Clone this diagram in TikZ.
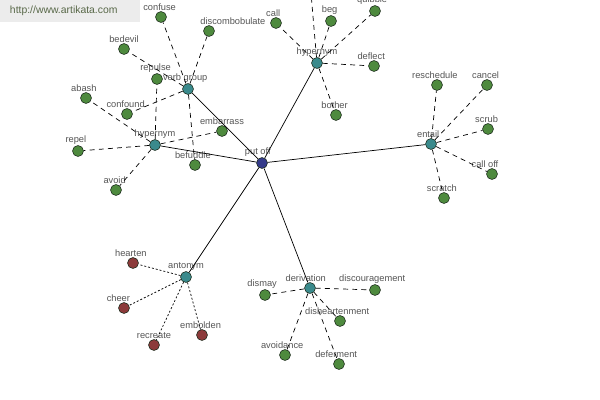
\documentclass[tikz,border=0pt]{standalone}
\usepackage{fontspec}
\setmainfont{Liberation Sans}
\definecolor{leafgreen}{RGB}{78,138,62}
\definecolor{leafred}{RGB}{140,58,58}
\definecolor{hubteal}{RGB}{58,138,140}
\definecolor{rootblue}{RGB}{52,58,138}
\definecolor{rimdark}{RGB}{30,45,30}
\definecolor{txtgray}{RGB}{85,85,85}
\definecolor{markgray}{RGB}{236,236,236}
\definecolor{marktext}{RGB}{88,104,72}
\begin{document}
\begin{tikzpicture}[x=0.025cm,y=-0.025cm,
  dot/.style={circle,draw=rimdark,line width=0.4pt,inner sep=0pt,minimum size=7.8pt},
  leaf/.style={dot,fill=leafgreen},
  foe/.style={dot,fill=leafred},
  hub/.style={dot,fill=hubteal},
  root/.style={dot,fill=rootblue},
  every label/.style={text=txtgray,font=\fontsize{6.6}{7}\selectfont,inner sep=0.5pt},
  label distance=0pt,
  rel/.style={line width=0.5pt},
  sub/.style={line width=0.5pt,dash pattern=on 3.5pt off 3pt},
  opp/.style={line width=0.5pt,dash pattern=on 1.4pt off 1.4pt}]
\useasboundingbox (0,0) rectangle (600,400);
\clip (0,0) rectangle (600,400);
\fill[white] (0,0) rectangle (600,400);
\node[fill=markgray,minimum width=140*0.025cm,minimum height=22*0.025cm,inner sep=0pt,anchor=north west] (mark) at (0,0) {};
\node[text=marktext,font=\fontsize{7.4}{8}\selectfont,anchor=west] (marktxt) at (5,11) {http://www.artikata.com};

\node[root,label={[xshift=-3pt]above:put off}] (putoff) at (262,163) {};

\node[hub,label={[xshift=-2pt]above:verb group}] (verbgroup) at (188,89) {};
\node[hub,label=above:hypernym] (hypernymA) at (155,145) {};
\node[hub,label=above:hypernym] (hypernymB) at (317,63) {};
\node[hub,label={[xshift=-2pt]above:entail}] (entail) at (431,144) {};
\node[hub,label=above:antonym] (antonym) at (186,277) {};
\node[hub,label={[xshift=-3pt]above:derivation}] (derivation) at (310,288) {};

\node[leaf,label={[xshift=-1pt]above:confuse}] (confuse) at (161,17) {};
\node[leaf,label={[xshift=17pt]above:discombobulate}] (discombobulate) at (209,31) {};
\node[leaf,label=above:bedevil] (bedevil) at (124,49) {};
\node[leaf,label={[xshift=-1pt]above:repulse}] (repulse) at (157,79) {};
\node[leaf,label={[xshift=-1.5pt]above:abash}] (abash) at (86,98) {};
\node[leaf,label={[xshift=-1pt]above:confound}] (confound) at (127,114) {};
\node[leaf,label=above:embarrass] (embarrass) at (222,131) {};
\node[leaf,label={[xshift=-1.5pt]above:repel}] (repel) at (78,151) {};
\node[leaf,label={[xshift=-1.5pt]above:befuddle}] (befuddle) at (195,165) {};
\node[leaf,label={[xshift=-1pt]above:avoid}] (avoid) at (116,190) {};

\node[leaf,label={[xshift=-2pt]above:call}] (call) at (276,23) {};
\node[leaf,label={[xshift=-1pt]above:beg}] (beg) at (331,21) {};
\node[leaf,label={[xshift=-2pt]above:quibble}] (quibble) at (375,11) {};
\node[leaf,label={[xshift=-2pt]above:deflect}] (deflect) at (374,66) {};
\node[leaf,label={[xshift=-1pt]above:bother}] (bother) at (336,115) {};
\coordinate (abovetop) at (309,-30);

\node[leaf,label={[xshift=-1.5pt]above:reschedule}] (reschedule) at (437,85) {};
\node[leaf,label={[xshift=-1pt]above:cancel}] (cancel) at (487,85) {};
\node[leaf,label={[xshift=-1pt]above:scrub}] (scrub) at (488,129) {};
\node[leaf,label={[xshift=-5pt]above:call off}] (calloff) at (492,174) {};
\node[leaf,label={[xshift=-1.5pt]above:scratch}] (scratch) at (444,198) {};

\node[foe,label={[xshift=-1.5pt]above:hearten}] (hearten) at (133,263) {};
\node[foe,label={[xshift=-4pt]above:cheer}] (cheer) at (124,308) {};
\node[foe,label=above:recreate] (recreate) at (154,345) {};
\node[foe,label={[xshift=-1pt]above:embolden}] (embolden) at (202,335) {};

\node[leaf,label={[xshift=-2pt]above:dismay}] (dismay) at (265,295) {};
\node[leaf,label={[xshift=-2pt]above:discouragement}] (discouragement) at (375,290) {};
\node[leaf,label={[xshift=-2pt]above:disheartenment}] (disheartenment) at (340,321) {};
\node[leaf,label={[xshift=-2pt]above:avoidance}] (avoidance) at (285,355) {};
\node[leaf,label={[xshift=-2pt]above:deferment}] (deferment) at (339,364) {};

\draw[rel] (putoff) -- (verbgroup);
\draw[rel] (putoff) -- (hypernymA);
\draw[rel] (putoff) -- (hypernymB);
\draw[rel] (putoff) -- (entail);
\draw[rel] (putoff) -- (antonym);
\draw[rel] (putoff) -- (derivation);

\draw[sub] (verbgroup) -- (confuse);
\draw[sub] (verbgroup) -- (discombobulate);
\draw[sub] (verbgroup) -- (bedevil);
\draw[sub] (verbgroup) -- (confound);
\draw[sub] (verbgroup) -- (befuddle);

\draw[sub] (hypernymA) -- (repulse);
\draw[sub] (hypernymA) -- (abash);
\draw[sub] (hypernymA) -- (embarrass);
\draw[sub] (hypernymA) -- (repel);
\draw[sub] (hypernymA) -- (avoid);

\draw[sub] (hypernymB) -- (call);
\draw[sub] (hypernymB) -- (beg);
\draw[sub] (hypernymB) -- (quibble);
\draw[sub] (hypernymB) -- (deflect);
\draw[sub] (hypernymB) -- (bother);
\draw[sub] (hypernymB) -- (abovetop);

\draw[sub] (entail) -- (reschedule);
\draw[sub] (entail) -- (cancel);
\draw[sub] (entail) -- (scrub);
\draw[sub] (entail) -- (calloff);
\draw[sub] (entail) -- (scratch);

\draw[opp] (antonym) -- (hearten);
\draw[opp] (antonym) -- (cheer);
\draw[opp] (antonym) -- (recreate);
\draw[opp] (antonym) -- (embolden);

\draw[sub] (derivation) -- (dismay);
\draw[sub] (derivation) -- (discouragement);
\draw[sub] (derivation) -- (disheartenment);
\draw[sub] (derivation) -- (avoidance);
\draw[sub] (derivation) -- (deferment);
\end{tikzpicture}
\end{document}
